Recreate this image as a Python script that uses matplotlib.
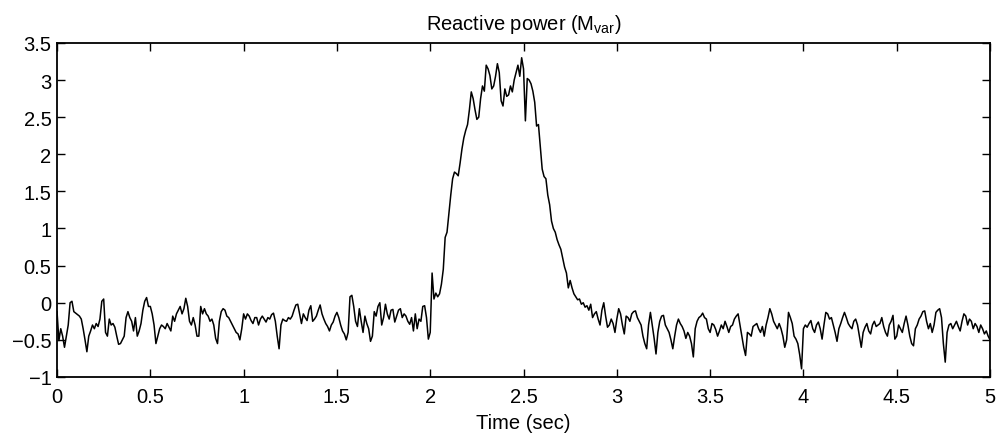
import numpy as np
import matplotlib
matplotlib.use("Agg")
import matplotlib.pyplot as plt
from matplotlib.ticker import FuncFormatter

plt.rcParams['font.family'] = ['Liberation Sans', 'DejaVu Sans']
plt.rcParams['mathtext.fontset'] = 'custom'
plt.rcParams['mathtext.rm'] = 'Liberation Sans'

# reactive power, one value every 10 ms from 0 to 5 s
dt = 0.01
q_0_1 = [-0.12, -0.51, -0.35, -0.45, -0.60, -0.45, -0.30, 0.00, 0.02, -0.12,
         -0.14, -0.16, -0.18, -0.22, -0.35, -0.50, -0.66, -0.45, -0.38, -0.30,
         -0.35, -0.28, -0.32, -0.22, 0.02, 0.05, -0.40, -0.45, -0.22, -0.30,
         -0.28, -0.33, -0.45, -0.56, -0.55, -0.50, -0.45, -0.20, -0.12, -0.20,
         -0.25, -0.38, -0.20, -0.45, -0.38, -0.28, -0.10, 0.02, 0.07, -0.05,
         -0.05, -0.15, -0.30, -0.55, -0.45, -0.35, -0.30, -0.32, -0.35, -0.28,
         -0.33, -0.38, -0.18, -0.25, -0.15, -0.10, -0.05, -0.15, -0.08, 0.06,
         -0.05, -0.25, -0.30, -0.20, -0.30, -0.45, -0.45, -0.05, -0.15, -0.08,
         -0.15, -0.18, -0.25, -0.22, -0.30, -0.48, -0.55, -0.25, -0.12, -0.08,
         -0.10, -0.18, -0.20, -0.25, -0.30, -0.35, -0.40, -0.42, -0.50, -0.35]
q_1_2 = [-0.15, -0.22, -0.15, -0.18, -0.24, -0.28, -0.20, -0.20, -0.30, -0.22,
         -0.18, -0.22, -0.26, -0.20, -0.22, -0.16, -0.14, -0.25, -0.45, -0.62,
         -0.30, -0.22, -0.24, -0.25, -0.20, -0.22, -0.18, -0.10, -0.03, -0.02,
         -0.15, -0.28, -0.15, -0.20, -0.24, -0.10, -0.04, -0.25, -0.22, -0.18,
         -0.10, -0.03, -0.15, -0.22, -0.28, -0.32, -0.38, -0.30, -0.26, -0.18,
         -0.13, -0.20, -0.30, -0.38, -0.42, -0.50, -0.40, 0.08, 0.10, -0.05,
         -0.25, -0.32, -0.08, -0.25, -0.40, -0.18, -0.28, -0.35, -0.52, -0.45,
         -0.12, -0.18, -0.05, 0.00, -0.30, -0.20, -0.02, -0.15, -0.22, -0.10,
         -0.09, -0.26, -0.18, -0.10, -0.08, -0.20, -0.15, -0.18, -0.25, -0.29,
         -0.20, -0.38, -0.15, -0.35, -0.22, -0.25, -0.05, -0.04, -0.20, -0.49]
q_2_3 = [-0.40, 0.40, 0.05, 0.13, 0.08, 0.12, 0.25, 0.45, 0.88, 0.95,
         1.20, 1.45, 1.67, 1.76, 1.74, 1.71, 1.88, 2.07, 2.22, 2.32,
         2.40, 2.60, 2.84, 2.75, 2.60, 2.47, 2.50, 2.75, 2.92, 2.85,
         3.20, 3.15, 3.06, 2.88, 2.92, 3.05, 3.22, 3.10, 2.72, 2.65,
         2.88, 2.78, 2.80, 2.92, 2.84, 3.00, 3.10, 3.20, 3.05, 3.30,
         3.15, 2.45, 3.02, 3.00, 2.95, 2.85, 2.70, 2.38, 2.40, 2.10,
         1.80, 1.70, 1.67, 1.45, 1.32, 1.10, 1.00, 0.95, 0.85, 0.78,
         0.72, 0.60, 0.48, 0.40, 0.20, 0.30, 0.20, 0.12, 0.08, 0.04,
         0.05, -0.02, 0.00, -0.06, -0.04, -0.10, -0.02, -0.20, -0.15, -0.12,
         -0.22, -0.30, -0.10, 0.00, -0.18, -0.33, -0.30, -0.22, -0.28, -0.40]
q_3_4 = [-0.22, -0.08, -0.15, -0.30, -0.42, -0.18, -0.20, -0.25, -0.15, -0.12,
         -0.11, -0.20, -0.25, -0.30, -0.45, -0.55, -0.62, -0.30, -0.13, -0.30,
         -0.48, -0.69, -0.40, -0.25, -0.18, -0.17, -0.30, -0.35, -0.40, -0.50,
         -0.62, -0.45, -0.30, -0.22, -0.28, -0.32, -0.38, -0.48, -0.40, -0.45,
         -0.55, -0.73, -0.35, -0.25, -0.20, -0.18, -0.14, -0.20, -0.22, -0.35,
         -0.40, -0.28, -0.30, -0.36, -0.45, -0.38, -0.30, -0.35, -0.25, -0.32,
         -0.40, -0.32, -0.30, -0.22, -0.18, -0.15, -0.30, -0.45, -0.60, -0.71,
         -0.40, -0.42, -0.45, -0.32, -0.30, -0.28, -0.35, -0.40, -0.32, -0.45,
         -0.30, -0.20, -0.08, -0.15, -0.25, -0.30, -0.35, -0.28, -0.35, -0.45,
         -0.60, -0.50, -0.13, -0.20, -0.28, -0.45, -0.49, -0.55, -0.70, -0.89]
q_4_5 = [-0.35, -0.30, -0.33, -0.28, -0.24, -0.35, -0.40, -0.30, -0.26, -0.35,
         -0.49, -0.30, -0.13, -0.15, -0.22, -0.20, -0.30, -0.40, -0.52, -0.35,
         -0.28, -0.20, -0.13, -0.20, -0.28, -0.32, -0.35, -0.25, -0.22, -0.30,
         -0.45, -0.60, -0.40, -0.33, -0.28, -0.38, -0.42, -0.30, -0.25, -0.32,
         -0.30, -0.28, -0.20, -0.32, -0.40, -0.45, -0.30, -0.25, -0.17, -0.49,
         -0.45, -0.30, -0.35, -0.40, -0.28, -0.18, -0.30, -0.45, -0.55, -0.58,
         -0.35, -0.30, -0.22, -0.18, -0.12, -0.11, -0.25, -0.35, -0.28, -0.40,
         -0.30, -0.13, -0.10, -0.08, -0.20, -0.55, -0.80, -0.40, -0.30, -0.28,
         -0.35, -0.30, -0.25, -0.32, -0.38, -0.25, -0.15, -0.18, -0.30, -0.22,
         -0.25, -0.35, -0.28, -0.32, -0.40, -0.30, -0.35, -0.42, -0.38, -0.45,
         -0.50]

x_ticks = [0, 0.5, 1, 1.5, 2, 2.5, 3, 3.5, 4, 4.5, 5]
y_ticks = [-1, -0.5, 0, 0.5, 1, 1.5, 2, 2.5, 3, 3.5]


def main():
    q = np.array(q_0_1 + q_1_2 + q_2_3 + q_3_4 + q_4_5)
    t = np.arange(len(q)) * dt

    fig = plt.figure(figsize=(9.97, 4.39), dpi=100)
    ax = fig.add_axes([0.0572, 0.139, 0.9358, 0.761])
    ax.plot(t, q, color="black", linewidth=1.1)

    ax.set_xlim(0, 5)
    ax.set_ylim(-1, 3.5)
    ax.set_xticks(x_ticks)
    ax.set_yticks(y_ticks)
    fmt = FuncFormatter(lambda v, p: ("%g" % v).replace("-", "\u2212"))
    ax.xaxis.set_major_formatter(fmt)
    ax.yaxis.set_major_formatter(fmt)
    ax.tick_params(direction="in", length=6, width=1, top=True, right=True,
                   labelsize=14.5)
    ax.tick_params(axis="y", pad=4)
    ax.tick_params(axis="x", pad=7)
    for s in ax.spines.values():
        s.set_linewidth(1.3)

    ax.set_title(r"Reactive power (M$_{\rm var}$)", fontsize=14.5, pad=10)
    ax.set_xlabel("Time (sec)", fontsize=14.5, labelpad=5)

    fig.savefig("out.png", dpi=100)


if __name__ == "__main__":
    main()
